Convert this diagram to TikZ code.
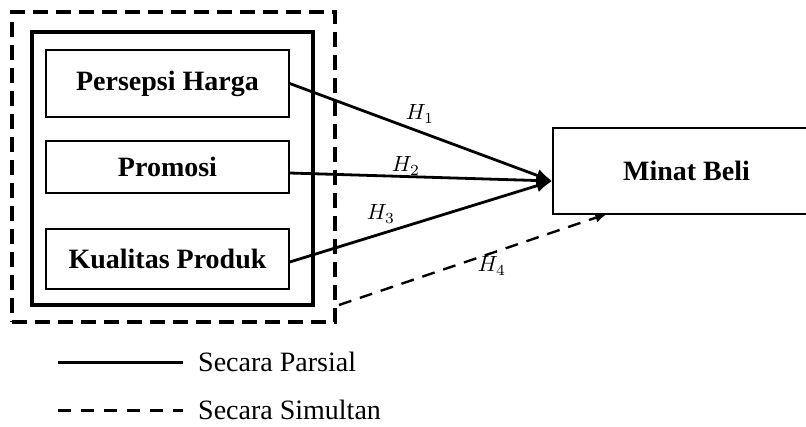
\documentclass[tikz,border=0pt]{standalone}
\usepackage{fontspec}
\setmainfont{Liberation Serif}
\usetikzlibrary{arrows.meta,calc}
\tikzset{
  varbox/.style={draw, line width=1.5pt, minimum width=243pt, inner sep=0pt,
    font=\fontsize{28}{33}\selectfont\bfseries},
  solidarrow/.style={line width=2.8pt, -{Latex[length=16pt,width=13pt]}},
  dasharrow/.style={line width=2.4pt, dash pattern=on 13pt off 9pt, -{Latex[length=12pt,width=10pt]}},
  hlabel/.style={inner sep=0pt, scale=2.2},
  legtext/.style={anchor=west, inner sep=0pt, font=\fontsize{28}{33}\selectfont},
}
\begin{document}
\begin{tikzpicture}[x=1pt,y=-1pt]
\useasboundingbox (0,0) rectangle (806,426);
\clip (0,0) rectangle (806,426);
% group boxes
\node[draw, line width=4pt, dash pattern=on 15pt off 8pt, minimum width=323pt, minimum height=310pt, inner sep=0pt] (outer) at (173.5,167) {};
\node[draw, line width=4pt, minimum width=281pt, minimum height=273pt, inner sep=0pt] (inner) at (172.5,168.5) {};
% variable boxes
\node[varbox, minimum height=67pt] (ph) at (167.5,83.5) {Persepsi Harga};
\node[varbox, minimum height=52pt] (pr) at (167.5,167) {Promosi};
\node[varbox, minimum height=60pt] (kp) at (167.5,259) {Kualitas Produk};
\node[draw, line width=1.5pt, minimum width=267pt, minimum height=86pt, inner sep=0pt,
  font=\fontsize{28}{33}\selectfont\bfseries] (mb) at (686.5,171) {Minat Beli};
% targets
\coordinate (tgt) at ($(mb.west)+(0,10)$);
\coordinate (src4) at ($(outer.south east)+(2,-19)$);
\coordinate (tgt4) at ($(mb.south west)+(55,-1)$);
% connectors
\draw[solidarrow] (ph.east) -- (tgt);
\draw[solidarrow] ($(pr.east)+(0,6)$) -- (tgt);
\draw[solidarrow] ($(kp.east)+(0,3)$) -- (tgt);
\draw[dasharrow] (src4) -- (tgt4);
% labels
\node[hlabel] (h1) at (420,114) {$H_1$};
\node[hlabel] (h2) at (406,166) {$H_2$};
\node[hlabel] (h3) at (381,214) {$H_3$};
\node[hlabel] (h4) at (492,266) {$H_4$};
% legend
\draw[line width=3pt] (58,362) -- (183,362);
\node[legtext] (lp) at (198,362) {Secara Parsial};
\draw[line width=3pt, dash pattern=on 13pt off 10pt] (58,410) -- (183,410);
\node[legtext] (ls) at (198,410) {Secara Simultan};
\end{tikzpicture}
\end{document}
